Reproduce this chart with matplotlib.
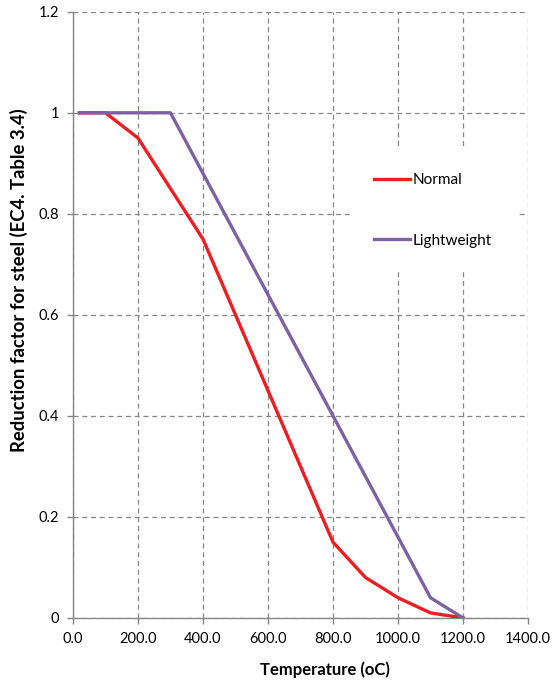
import matplotlib
matplotlib.use("Agg")
import matplotlib.pyplot as plt

temperature = [20, 100, 200, 300, 400, 500, 600, 700, 800, 900, 1000, 1100, 1200]
normal = [1.0, 1.0, 0.95, 0.85, 0.75, 0.60, 0.45, 0.30, 0.15, 0.08, 0.04, 0.01, 0.0]
lightweight = [1.0, 1.0, 1.0, 1.0, 0.88, 0.76, 0.64, 0.52, 0.40, 0.28, 0.16, 0.04, 0.0]
xticks = [0, 200, 400, 600, 800, 1000, 1200, 1400]
xtick_labels = ["0.0", "200.0", "400.0", "600.0", "800.0", "1000.0", "1200.0", "1400.0"]
yticks = [0, 0.2, 0.4, 0.6, 0.8, 1.0, 1.2]
ytick_labels = ["0", "0.2", "0.4", "0.6", "0.8", "1", "1.2"]

plt.rcParams['font.family'] = ['Lato', 'DejaVu Sans']

fig = plt.figure(figsize=(5.57, 6.92), dpi=100)
ax = fig.add_axes([0.131, 0.107, 0.817, 0.876])

ax.plot(temperature, normal, color="#EE1D23", lw=2.4, label="Normal", zorder=3)
ax.plot(temperature, lightweight, color="#7E61A3", lw=2.4, label="Lightweight", zorder=4)

ax.set_xlim(0, 1400)
ax.set_ylim(0, 1.2)
ax.set_xticks(xticks)
ax.set_xticklabels(xtick_labels)
ax.set_yticks(yticks)
ax.set_yticklabels(ytick_labels)
ax.tick_params(axis='both', labelsize=10.5, color="#868686", length=4, width=1, labelcolor="#000000", pad=6)

ax.grid(True, color="#868686", linestyle=(0, (4, 3)), lw=0.9)
ax.set_axisbelow(True)
for s in ["top", "right"]:
    ax.spines[s].set_visible(False)
for s in ["left", "bottom"]:
    ax.spines[s].set_color("#868686")
    ax.spines[s].set_linewidth(1)

ax.set_xlabel("Temperature (oC)", fontsize=12, fontweight="bold")
ax.xaxis.set_label_coords(0.554, -0.072)
ax.set_ylabel("Reduction factor for steel (EC4. Table 3.4)", fontsize=13.3, fontweight="bold")
ax.yaxis.set_label_coords(-0.099, 0.558)

leg = ax.legend(loc="upper left", bbox_to_anchor=(0.592, 0.787), frameon=True,
                fancybox=False, edgecolor="none", facecolor="white", framealpha=1,
                fontsize=11, labelspacing=3.05, handlelength=2.3, handletextpad=0.2,
                borderpad=1.6)

fig.savefig("out.png", dpi=100)
